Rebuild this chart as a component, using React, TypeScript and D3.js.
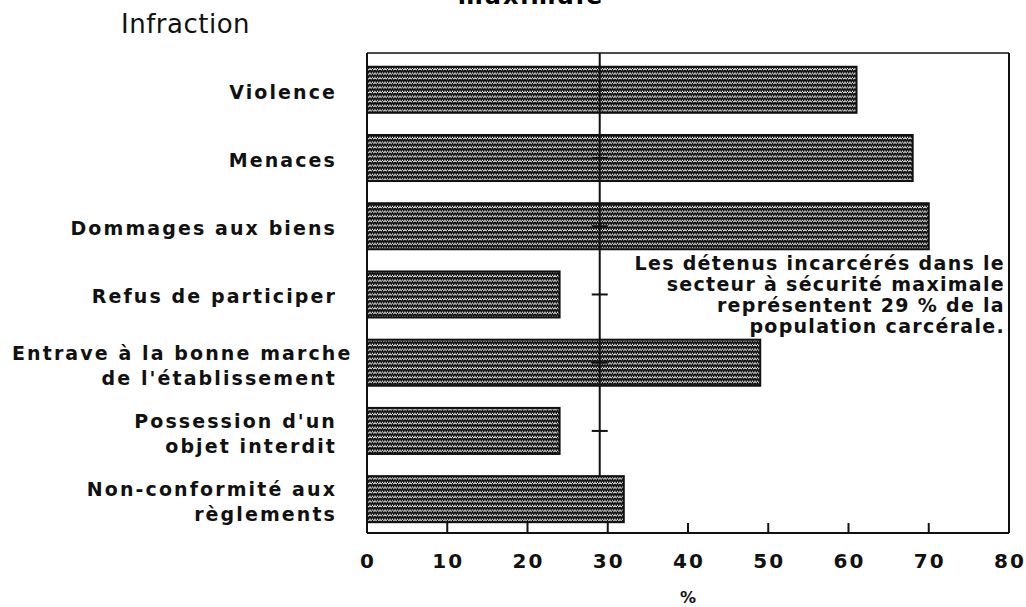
import * as d3 from "d3";
import React from "react";

// infractions, secteur à sécurité maximale (%)
const categories = [
  "Violence",
  "Menaces",
  "Dommages aux biens",
  "Refus de participer",
  "Entrave à la bonne marche\nde l'établissement",
  "Possession d'un\nobjet interdit",
  "Non-conformité aux\nrèglements",
];
const values = [61, 68, 70, 24, 49, 24, 32];
const shareMax = 29; // part de la population carcérale
const xTicks = [0, 10, 20, 30, 40, 50, 60, 70, 80];
const noteLines = [
  "Les détenus incarcérés dans le",
  "secteur à sécurité maximale",
  "représentent 29 % de la",
  "population carcérale.",
];

const W = 1026;
const H = 607;
const left = 367;
const right = 1009;
const top = 53;
const bottom = 533;
const labelX = 337;
const font = "'DejaVu Sans', sans-serif";

const App: React.FC = () => {
  const x = d3.scaleLinear().domain([0, 80]).range([left, right]);
  const y = d3
    .scaleBand()
    .domain(categories)
    .range([top, bottom])
    .paddingInner(0.325)
    .paddingOuter(0.18)
    .align(0.56);

  const bw = y.bandwidth();
  const lastTop = y(categories[categories.length - 1])!;

  return (
    <svg width={W} height={H} style={{ position: "absolute", left: 0, top: 0, background: "#fff" }}>
      <defs>
        <pattern id="zig" width={5} height={4.6} patternUnits="userSpaceOnUse">
          <rect width={5} height={4.6} fill="#fff" />
          <path d="M0,0.9 L1.25,3.7 L2.5,0.9 L3.75,3.7 L5,0.9" fill="none" stroke="#111" strokeWidth={1.6} />
        </pattern>
      </defs>

      {/* titre coupé */}
      <text x={531} y={4} textAnchor="middle" fontFamily={font} fontWeight="bold" fontSize={24} letterSpacing={2}>
        maximale
      </text>
      <text x={121} y={33} fontFamily={font} fontSize={26} letterSpacing={0.5} fill="#111">
        Infraction
      </text>

      {/* cadre */}
      <line x1={left} x2={right} y1={top} y2={top} stroke="#111" strokeWidth={1.5} />
      <line x1={right} x2={right} y1={top} y2={bottom} stroke="#111" strokeWidth={2} />
      <line x1={left} x2={left} y1={top} y2={bottom} stroke="#111" strokeWidth={2} />
      <line x1={left} x2={right} y1={bottom} y2={bottom} stroke="#111" strokeWidth={2} />

      {/* barres */}
      {categories.map((c, i) => (
        <rect
          key={c}
          x={x(0)}
          y={y(c)!}
          width={x(values[i]) - x(0)}
          height={bw}
          fill="url(#zig)"
          stroke="#111"
          strokeWidth={2}
        />
      ))}

      {/* ligne de référence 29 % */}
      <line x1={x(shareMax)} x2={x(shareMax)} y1={top} y2={lastTop} stroke="#111" strokeWidth={2} />
      {categories.slice(0, -1).map((c) => (
        <line
          key={"t" + c}
          x1={x(shareMax) - 8}
          x2={x(shareMax) + 8}
          y1={y(c)! + bw / 2}
          y2={y(c)! + bw / 2}
          stroke="#111"
          strokeWidth={2}
        />
      ))}

      {/* étiquettes */}
      {categories.map((c) => {
        const lines = c.split("\n");
        const cy = y(c)! + bw / 2;
        const y0 = lines.length === 1 ? cy + 9 : cy - 3;
        return (
          <text key={"l" + c} fontFamily={font} fontWeight="bold" fontSize={19} letterSpacing={2.1} fill="#111">
            {lines.map((t, j) => {
              // la ligne trop longue déborde vers l'axe plutôt que hors de la page
              const long = t.length > 24;
              return (
                <tspan key={j} x={long ? 12 : labelX} y={y0 + j * 25} textAnchor={long ? "start" : "end"}>
                  {t}
                </tspan>
              );
            })}
          </text>
        );
      })}

      {/* axe x */}
      {xTicks.map((t) => (
        <g key={"x" + t}>
          <line x1={x(t)} x2={x(t)} y1={bottom} y2={bottom - 10} stroke="#111" strokeWidth={2} />
          <text x={x(t) + 1} y={568} textAnchor="middle" fontFamily={font} fontWeight="bold" fontSize={20} letterSpacing={2} fill="#111">
            {t}
          </text>
        </g>
      ))}
      <text x={x(40)} y={603} textAnchor="middle" fontFamily={font} fontWeight="bold" fontSize={16} fill="#111">
        %
      </text>

      {/* note */}
      <text fontFamily={font} fontWeight="bold" fontSize={19} letterSpacing={1.3} textAnchor="end" fill="#111">
        {noteLines.map((t, j) => (
          <tspan key={j} x={1005} y={270 + j * 21}>
            {t}
          </tspan>
        ))}
      </text>
    </svg>
  );
};

export default App;
